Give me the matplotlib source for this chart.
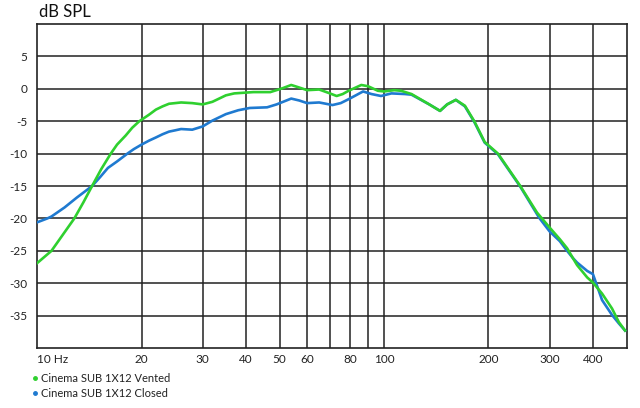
import numpy as np
import matplotlib
matplotlib.use('Agg')
import matplotlib.pyplot as plt
from matplotlib.lines import Line2D

# Frequency response (Hz, dB SPL)
vented_f = [10, 11, 12.8, 13.6, 14.4, 15.3, 16.3, 17, 18, 18.8, 19.7, 21, 22,
            23, 24, 26, 28, 30, 32, 35, 37, 42, 47, 51, 54, 57, 60, 65, 69, 73,
            76, 79, 86, 90, 96, 100, 107, 112, 120, 135, 145, 152, 161, 171,
            182, 195, 213, 247, 276, 300, 321, 337, 350, 360, 385, 400, 425,
            454, 475, 495]
vented_db = [-26.9, -25, -20, -17.5, -15, -12.4, -10, -8.6, -7.2, -6.0, -5,
             -4.0, -3.2, -2.7, -2.3, -2.1, -2.2, -2.4, -2.0, -1.0, -0.7, -0.5,
             -0.5, 0.1, 0.6, 0.2, -0.2, -0.1, -0.6, -1.1, -0.8, -0.3, 0.6, 0.4,
             -0.3, -0.4, -0.2, -0.3, -0.8, -2.4, -3.4, -2.4, -1.7, -2.6, -5.0,
             -8.2, -10, -15, -19.1, -21.4, -23.2, -24.6, -26.1, -27.2, -29.1,
             -29.9, -31.6, -33.9, -36, -37.3]

closed_f = [10, 10.7, 11, 12, 13, 14.4, 15.2, 16, 17, 18.2, 19, 20, 21, 22, 23,
            24, 25, 26, 28, 30, 32, 35, 38, 41, 46, 49, 54, 57, 60, 65, 68, 71,
            75, 79, 87, 92, 98, 105, 115, 120, 135, 145, 152, 161, 171, 182,
            195, 213, 247, 280, 300, 321, 337, 350, 360, 385, 400, 425, 454,
            475, 495]
closed_db = [-20.6, -20, -19.7, -18.3, -16.8, -15, -13.6, -12.2, -11.2, -10,
             -9.3, -8.6, -8.0, -7.5, -7.0, -6.6, -6.4, -6.2, -6.3, -5.8, -4.9,
             -3.9, -3.3, -2.95, -2.85, -2.4, -1.5, -1.8, -2.2, -2.1, -2.3, -2.5,
             -2.2, -1.6, -0.4, -0.8, -1.1, -0.7, -0.8, -0.9, -2.4, -3.4, -2.4,
             -1.7, -2.7, -5.1, -8.3, -10.1, -15.1, -19.9, -22.0, -23.5, -25.0,
             -26.1, -26.8, -28.1, -28.6, -32.6, -34.9, -36.2, -37.3]

grid_f = [20, 30, 40, 50, 60, 70, 80, 90, 100, 200, 300, 400]
x_ticks = [10, 20, 30, 40, 50, 60, 80, 100, 200, 300, 400]
x_labels = ['10 Hz', '20', '30', '40', '50', '60', '80', '100', '200', '300', '400']
y_ticks = [5, 0, -5, -10, -15, -20, -25, -30, -35]

green = '#2fd02f'
blue = '#1f7ad0'
gridc = '#222222'

plt.rcParams['font.family'] = ['Lato', 'DejaVu Sans']

fig = plt.figure(figsize=(6.4, 4.08), dpi=100)
ax = fig.add_axes([0.058, 0.147, 0.921, 0.794])
ax.set_xscale('log')
ax.set_xlim(10, 500)
ax.set_ylim(-40, 10)

for f in grid_f:
    ax.axvline(f, color=gridc, lw=1.1, zorder=1)
for y in y_ticks:
    ax.axhline(y, color=gridc, lw=1.1, zorder=1)

ax.plot(closed_f, closed_db, color=blue, lw=1.9, zorder=3, solid_joinstyle='round')
ax.plot(vented_f, vented_db, color=green, lw=1.9, zorder=4, solid_joinstyle='round')

ax.set_xticks(x_ticks)
ax.set_xticklabels(x_labels)
ax.xaxis.set_minor_locator(matplotlib.ticker.NullLocator())
ax.set_yticks(y_ticks)
ax.set_yticklabels([str(v) for v in y_ticks])
ax.tick_params(length=0, labelsize=8.5, colors='#222222')
ax.tick_params(axis='x', pad=4)
ax.tick_params(axis='y', pad=7)
ax.get_xticklabels()[0].set_horizontalalignment('left')
for s in ax.spines.values():
    s.set_color(gridc)
    s.set_linewidth(1.2)

fig.text(0.061, 0.952, 'dB SPL', fontsize=12, color='#111111', ha='left', va='bottom')

handles = [Line2D([], [], ls='none', marker='o', ms=2.5, color=green),
           Line2D([], [], ls='none', marker='o', ms=2.5, color=blue)]
fig.legend(handles, ['Cinema SUB 1X12 Vented', 'Cinema SUB 1X12 Closed'],
           loc='upper left', bbox_to_anchor=(0.05, 0.085), frameon=False,
           fontsize=8, handlelength=0.5, handletextpad=0.35, labelspacing=0.35,
           borderpad=0, borderaxespad=0, labelcolor='#222222')

fig.savefig('out.png', dpi=100)
